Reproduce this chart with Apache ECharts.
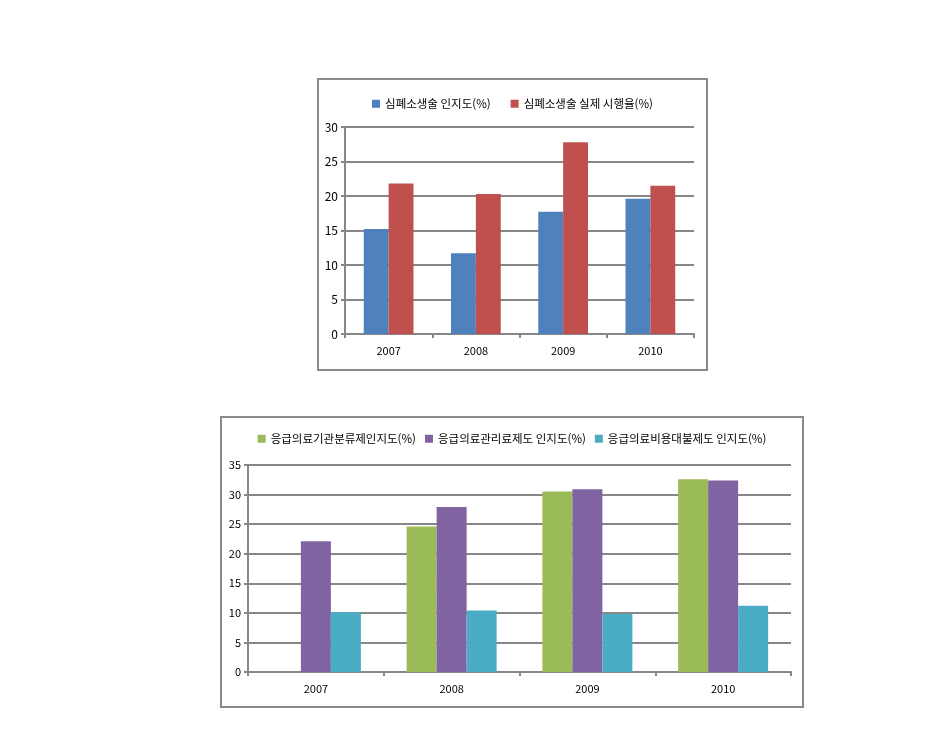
<!DOCTYPE html>
<html lang="ko">
<head>
    <meta charset="UTF-8">
    <title>심폐소생술 / 응급의료 인지도</title>
    <script src="https://cdn.jsdelivr.net/npm/echarts@6/dist/echarts.min.js"></script>
    <style>
        body { margin: 0; background: #fff; }
        .box { position: absolute; box-sizing: border-box; border: 2px solid #8a8a8a; background: #fff; }
    </style>
</head>
<body>
    <!-- 위 차트 -->
    <div id="chart1" class="box" style="left:317px; top:78px; width:391px; height:293px;"></div>
    <!-- 아래 차트 -->
    <div id="chart2" class="box" style="left:220px; top:416px; width:584px; height:292px;"></div>

    <script>
        // 데이터
        var years = ['2007', '2008', '2009', '2010'];
        var cprNames = ['심폐소생술 인지도(%)', '심폐소생술 실제 시행율(%)'];
        var cprAware = [15.2, 11.7, 17.7, 19.6];
        var cprDone = [21.8, 20.3, 27.8, 21.5];
        var emgNames = ['응급의료기관분류제인지도(%)', '응급의료관리료제도 인지도(%)', '응급의료비용대불제도 인지도(%)'];
        var emgClass = [null, 24.6, 30.5, 32.6];
        var emgMgmt = [22.1, 27.9, 30.9, 32.4];
        var emgLoan = [10.1, 10.4, 9.8, 11.2];

        var font = '"Noto Sans CJK KR", "Noto Sans", sans-serif';
        var lineColor = '#878787';

        function baseAxes(max, yFont) {
            return {
                xAxis: {
                    type: 'category',
                    data: years,
                    axisLine: { lineStyle: { color: lineColor, width: 2 } },
                    axisTick: { show: true, length: 4, lineStyle: { color: lineColor, width: 2 } },
                    axisLabel: { color: '#000', fontFamily: font, fontSize: 11, margin: 11 }
                },
                yAxis: {
                    type: 'value',
                    min: 0,
                    max: max,
                    interval: 5,
                    axisLine: { show: true, lineStyle: { color: lineColor, width: 2 } },
                    axisTick: { show: true, length: 4, lineStyle: { color: lineColor, width: 2 } },
                    splitLine: { lineStyle: { color: lineColor, width: 2 } },
                    axisLabel: { color: '#000', fontFamily: font, fontSize: yFont, margin: 7 }
                }
            };
        }

        // 위 차트: 심폐소생술
        var chart1 = echarts.init(document.getElementById('chart1'));
        var ax1 = baseAxes(30, 12);
        chart1.setOption({
            animation: false,
            grid: { left: 26, top: 47, width: 349, height: 207 },
            legend: {
                left: 'center',
                top: 13,
                icon: 'rect',
                itemWidth: 8,
                itemHeight: 8,
                itemGap: 20,
                textStyle: { color: '#000', fontFamily: font, fontSize: 11.5 },
                data: cprNames
            },
            xAxis: ax1.xAxis,
            yAxis: ax1.yAxis,
            series: [
                { name: cprNames[0], type: 'bar', data: cprAware, barGap: 0, barCategoryGap: '43%',
                  itemStyle: { color: '#4F81BD' } },
                { name: cprNames[1], type: 'bar', data: cprDone, barGap: 0, barCategoryGap: '43%',
                  itemStyle: { color: '#C0504D' } }
            ]
        });

        // 아래 차트: 응급의료 제도
        var chart2 = echarts.init(document.getElementById('chart2'));
        var ax2 = baseAxes(35, 11);
        chart2.setOption({
            animation: false,
            grid: { left: 26, top: 47, width: 543, height: 207 },
            legend: {
                left: 'center',
                top: 10,
                icon: 'rect',
                itemWidth: 8,
                itemHeight: 8,
                itemGap: 9,
                textStyle: { color: '#000', fontFamily: font, fontSize: 11.5 },
                data: emgNames
            },
            xAxis: ax2.xAxis,
            yAxis: ax2.yAxis,
            series: [
                { name: emgNames[0], type: 'bar', data: emgClass, barGap: 0, barCategoryGap: '33.7%',
                  itemStyle: { color: '#9BBB59' } },
                { name: emgNames[1], type: 'bar', data: emgMgmt, barGap: 0, barCategoryGap: '33.7%',
                  itemStyle: { color: '#8064A2' } },
                { name: emgNames[2], type: 'bar', data: emgLoan, barGap: 0, barCategoryGap: '33.7%',
                  itemStyle: { color: '#4BACC6' } }
            ]
        });
    </script>
</body>
</html>
